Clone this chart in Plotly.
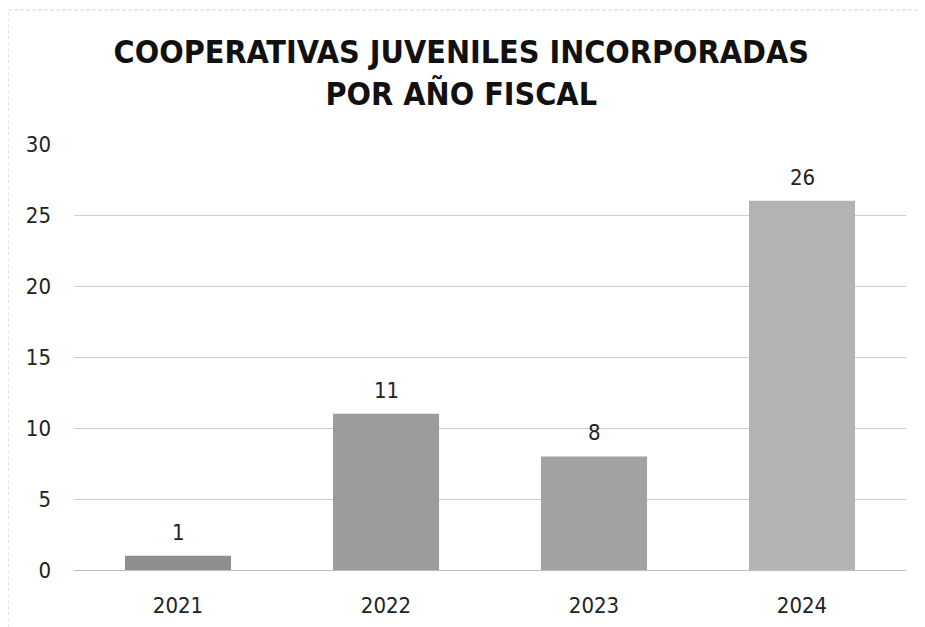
import plotly.graph_objects as go

years = ["2021", "2022", "2023", "2024"]
values = [1, 11, 8, 26]
bar_colors = ["#8e8e8e", "#9c9c9c", "#a2a2a2", "#b3b3b3"]
y_ticks = [0, 5, 10, 15, 20, 25, 30]

FONT = "DejaVu Sans Condensed"

fig = go.Figure()
fig.add_trace(go.Bar(
    x=years, y=values,
    marker=dict(color=bar_colors, line=dict(width=0)),
    width=0.51,
    cliponaxis=False,
))

for i, v in enumerate(values):
    fig.add_annotation(x=i, y=v, text=str(v), showarrow=False,
                       yanchor="bottom", yshift=9,
                       font=dict(family=FONT, size=22, color="#222222"))

fig.update_layout(
    width=925, height=627,
    margin=dict(l=66, r=27, t=136, b=65),
    paper_bgcolor="white", plot_bgcolor="white",
    showlegend=False,
    title=dict(
        text="<b>COOPERATIVAS JUVENILES INCORPORADAS<br>POR AÑO FISCAL</b>",
        x=0.49, xanchor="center", y=0.912, yanchor="top",
        font=dict(family=FONT, size=32, color="#111111"),
    ),
    xaxis=dict(
        type="category",
        range=[-0.5, len(years) - 0.5],
        showgrid=False, zeroline=False, showline=False,
        ticks="", ticklabelstandoff=20,
        tickfont=dict(family=FONT, size=22, color="#222222"),
    ),
    yaxis=dict(
        range=[0, 30],
        tickvals=y_ticks,
        showgrid=True, gridcolor="#cfcfcf", gridwidth=1,
        zeroline=True, zerolinecolor="#bdbdbd", zerolinewidth=1,
        showline=False, ticks="",
        ticklabelstandoff=22,
        tickfont=dict(family=FONT, size=22, color="#222222"),
    ),
)

fig.add_shape(type="rect", xref="paper", yref="paper",
              x0=-0.0793, x1=1.1, y0=-0.2, y1=1.3146,
              line=dict(color="#c8c8c8", width=1, dash="dot"))

fig.write_html("out.html")
